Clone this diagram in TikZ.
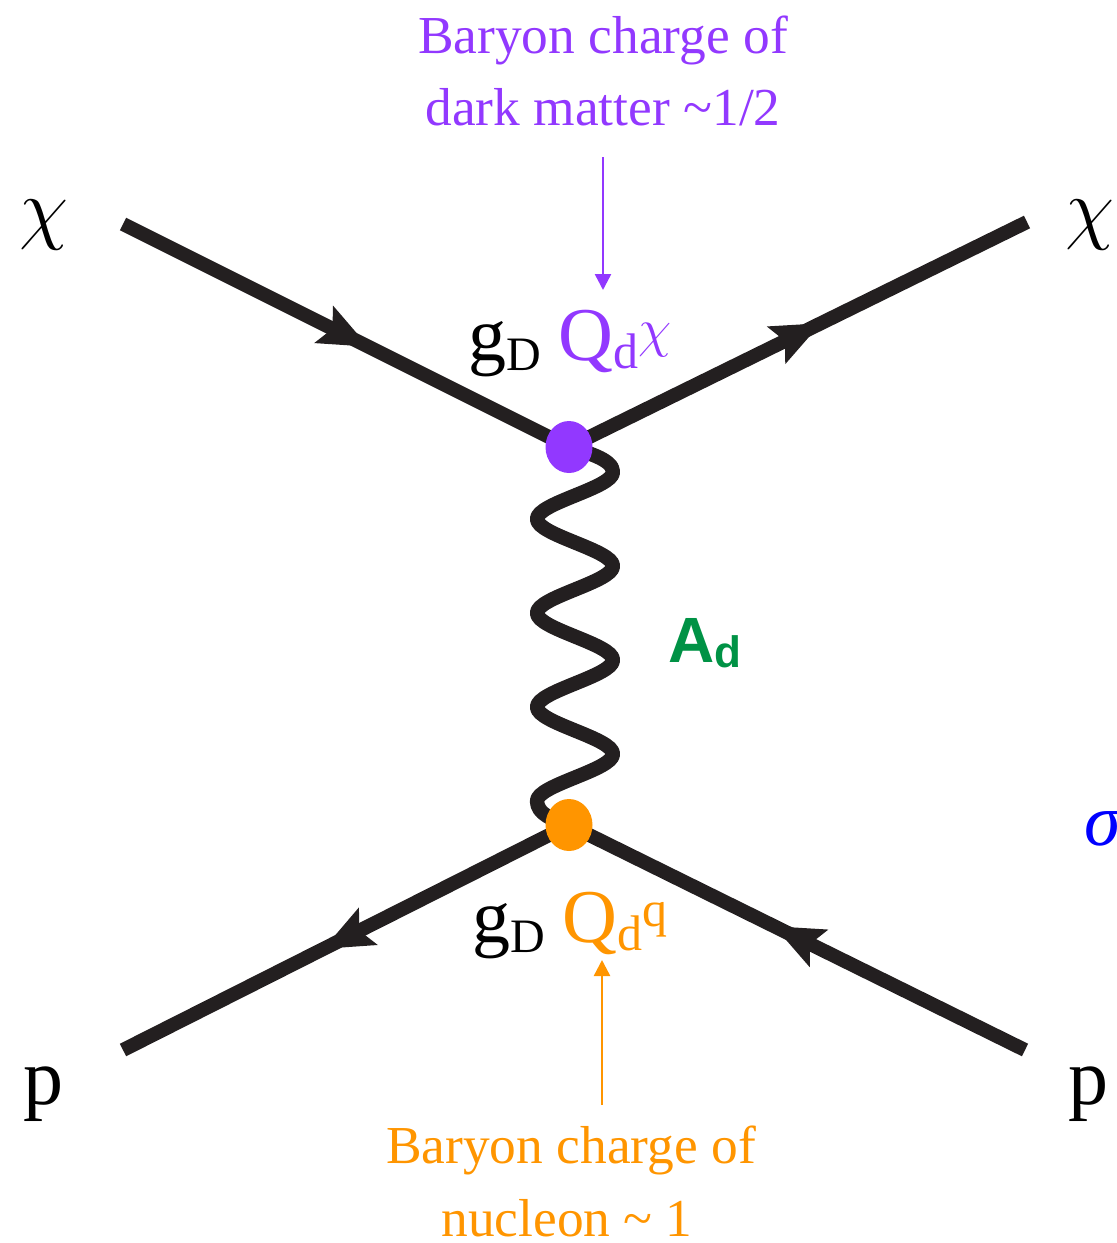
\documentclass[tikz,border=0pt]{standalone}
\usepackage{fontspec}
\setmainfont{Liberation Serif}
\newfontfamily\hvfont{Liberation Sans}
\usetikzlibrary{arrows.meta,decorations.markings,shapes.geometric}
\definecolor{dmpurple}{RGB}{146,56,255}
\definecolor{nuorange}{RGB}{255,149,0}
\definecolor{adgreen}{RGB}{0,146,69}
\definecolor{lineblack}{RGB}{35,31,32}
\definecolor{sigblue}{RGB}{0,0,255}
\newcommand{\bigchi}[1]{{\fontsize{12}{14}\selectfont\scalebox{#1}{$\chi$}}}
\tikzset{
  fermion/.style={color=lineblack, line width=7pt, postaction={decorate},
    decoration={markings, mark=at position 0.55 with {\arrow{Stealth[length=25pt,width=21pt,inset=5pt,line width=0pt]}}}},
  boson/.style={draw=lineblack, line width=7.2pt, line join=round},
  vdot/.style={ellipse, inner sep=0pt, minimum width=23.5pt, minimum height=26pt},
  lbl/.style={inner sep=0pt, anchor=base},
  pointer/.style={line width=1.25pt, -{Triangle[length=8pt,width=8pt]}},
  bigtxt/.style={font=\fontsize{40}{44}\selectfont},
  captxt/.style={font=\fontsize{26.7}{32}\selectfont}
}
\begin{document}
\begin{tikzpicture}[x=0.5pt,y=-0.5pt]
\useasboundingbox (0,0) rectangle (1116,1243);
% vertices and external points
\coordinate (vt) at (569,447);
\coordinate (vb) at (569,825);
\coordinate (chiL) at (123,224);
\coordinate (chiR) at (1027,222);
\coordinate (pL) at (123,1050);
\coordinate (pR) at (1025,1050);
% fermion lines
\draw[fermion] (chiL) -- (vt);
\draw[fermion] (vt) -- (chiR);
\draw[fermion] (vb) -- (pL);
\draw[fermion] (pR) -- (vb);
% boson (wavy line)
\draw[boson] (vt)
  .. controls +(16,5) and +(0,-13) .. ++(44,25)
  .. controls +(0,16) and +(0,-16) .. ++(-76,47)
  .. controls +(0,16) and +(0,-16) .. ++(76,47)
  .. controls +(0,16) and +(0,-16) .. ++(-76,47)
  .. controls +(0,16) and +(0,-16) .. ++(76,47)
  .. controls +(0,16) and +(0,-16) .. ++(-76,47)
  .. controls +(0,16) and +(0,-16) .. ++(76,47)
  .. controls +(0,16) and +(0,-16) .. ++(-76,47)
  .. controls +(0,13) and +(-16,-5) .. (vb);
% vertex dots
\node[vdot, fill=dmpurple] (dt) at (vt) {};
\node[vdot, fill=nuorange] (db) at (vb) {};
% particle labels
\node[lbl] (lchiL) at (44,234) {\bigchi{3.33}};
\node[lbl] (lchiR) at (1090,234) {\bigchi{3.33}};
\node[lbl, bigtxt] (lpL) at (44,1104) {p};
\node[lbl, bigtxt] (lpR) at (1088,1104) {p};
\node[lbl, anchor=base west, text=sigblue, font=\fontsize{37}{40}\selectfont] (sig) at (1084,845) {\itshape σ};
% couplings
\node[lbl, anchor=base west] (gt) at (468,360) {\fontsize{38}{42}\selectfont g\raisebox{-5pt}{\fontsize{24}{28}\selectfont D}};
\node[lbl, anchor=base west, text=dmpurple] (qt) at (558,360) {\fontsize{38}{42}\selectfont Q\raisebox{-4pt}{\fontsize{25}{28}\selectfont d}\raisebox{7pt}{\bigchi{2.25}}};
\node[lbl, anchor=base west] (gb) at (472,942) {\fontsize{38}{42}\selectfont g\raisebox{-5pt}{\fontsize{24}{28}\selectfont D}};
\node[lbl, anchor=base west, text=nuorange] (qb) at (562,942) {\fontsize{38}{42}\selectfont Q\raisebox{-4pt}{\fontsize{25}{28}\selectfont d}\raisebox{8pt}{\fontsize{25}{28}\selectfont q}};
% mediator label
\node[lbl, anchor=base west, text=adgreen, font=\hvfont\bfseries] (ad) at (668,662) {\fontsize{32}{36}\selectfont A\raisebox{-2.5pt}{\fontsize{22}{26}\selectfont d}};
% annotations
\node[lbl, captxt, text=dmpurple] (bt1) at (603,53) {Baryon charge of};
\node[lbl, captxt, text=dmpurple] (bt2) at (603,125) {dark matter \textasciitilde1/2};
\node[lbl, captxt, text=nuorange] (bb1) at (571,1163) {Baryon charge of};
\node[lbl, captxt, text=nuorange] (bb2) at (567,1236) {nucleon \textasciitilde{} 1};
\coordinate (pa) at (603,157);
\coordinate (pb) at (603,290);
\coordinate (pc) at (602,1105);
\coordinate (pd) at (602,960);
\draw[pointer, dmpurple] (pa) -- (pb);
\draw[pointer, nuorange] (pc) -- (pd);
\end{tikzpicture}
\end{document}
